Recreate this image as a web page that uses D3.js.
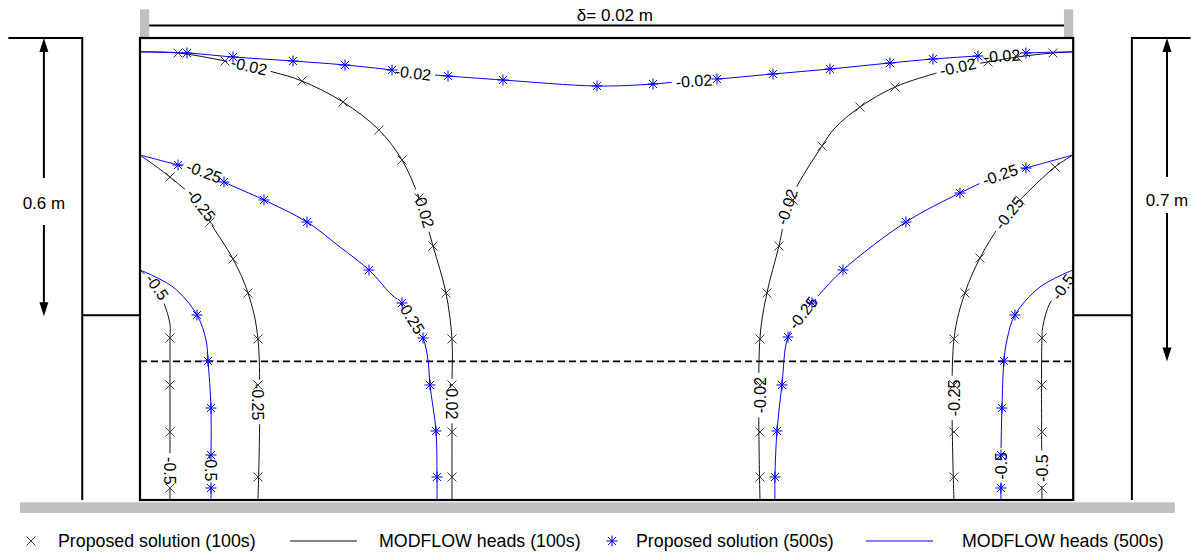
<!DOCTYPE html>
<html>
<head>
<meta charset="utf-8">
<script src="https://cdn.jsdelivr.net/npm/d3@7"></script>
<style>
  body { margin: 0; background: #fff; }
  svg { display: block; font-family: Arial, "Liberation Sans", sans-serif; }
</style>
</head>
<body>
<svg id="chart" width="1191" height="553"></svg>
<script>
// Coordinates in cm: x from the left wall, z = elevation above the base.
const levels = [-0.02, -0.25, -0.5];

// MODFLOW heads, t = 100 s
const mf100_L002 = [[0,97.0],[8.23,96.75],[18.40,95.02],[28.79,92.64],[35.06,90.69],[43.94,86.15],[51.73,80.09],[56.71,73.59],[60.39,65.37],[63.42,54.98],[66.23,44.81],[67.53,34.85],[67.53,24.89],[67.53,14.72],[67.53,4.98],[67.53,0]];
const mf100_L025 = [[0,74.68],[6.49,69.91],[13.20,63.85],[15.15,60.17],[20.13,52.16],[23.38,44.81],[25.54,34.85],[25.54,0]];
const mf100_L05  = [[0,49.78],[3.68,46.10],[5.19,42.64],[6.49,38.10],[6.49,35.06],[6.49,0]];
const mf100_R002 = [[201.95,97.0],[197.62,96.75],[189.83,95.89],[183.55,94.81],[177.06,93.72],[173.16,92.64],[163.42,89.39],[155.84,85.06],[150.43,80.52],[147.62,76.62],[140.6,64.6],[138.31,54.98],[135.71,44.81],[134.20,35.06],[134.20,0]];
const mf100_R025 = [[201.95,74.68],[198.05,72.08],[190.48,64.94],[188.1,62.1],[185.71,58.87],[181.82,52.38],[178.57,44.81],[176.19,34.85],[176.19,0]];
const mf100_R05  = [[201.95,49.78],[199.78,46.10],[196.97,42.64],[195.45,37.66],[195.24,35.06],[195.24,0]];

// Proposed solution, t = 100 s
const ps100_L002 = [[8.23,96.75],[18.40,95.02],[35.06,90.69],[43.94,86.15],[51.73,80.09],[56.71,73.59],[60.39,65.37],[63.42,54.98],[66.23,44.81],[67.53,34.85],[67.53,24.89],[67.53,14.72],[67.53,4.98]];
const ps100_L025 = [[6.49,69.91],[15.15,60.17],[20.13,52.16],[23.38,44.81],[25.54,34.85],[25.54,24.89],[25.54,4.98]];
const ps100_L05  = [[6.49,35.06],[6.49,24.89],[6.49,14.72],[6.49,2.60]];
const ps100_R002 = [[197.62,96.75],[189.83,95.89],[183.55,94.81],[163.42,89.39],[155.84,85.06],[147.62,76.62],[141.34,64.94],[138.31,54.98],[135.71,44.81],[134.20,34.85],[134.20,24.89],[134.20,14.72],[134.20,4.98]];
const ps100_R025 = [[198.05,72.08],[190.48,64.94],[181.82,52.38],[178.57,44.81],[176.19,34.85],[176.19,24.89],[176.19,14.72],[176.19,4.98]];
const ps100_R05  = [[195.24,35.06],[195.24,24.89],[195.24,14.72],[195.24,2.60]];

// MODFLOW heads, t = 500 s
const mf500_002  = [[0,97.0],[10.17,96.75],[20.13,95.89],[33.12,95.02],[44.37,94.16],[54.55,93.07],[59.09,92.42],[66.67,91.77],[78.57,90.91],[98.92,89.61],[111.04,90.04],[120.13,90.91],[124.89,91.13],[137.01,92.21],[149.35,93.29],[162.34,94.59],[171.64,95.45],[181.39,96.10],[186.15,96.32],[191.77,96.75],[201.95,97.0]];
const mf500_L025 = [[0,74.68],[8.23,72.51],[14.07,71.0],[18.18,68.83],[26.84,64.94],[36.15,60.17],[43.29,54.76],[49.57,49.78],[54.55,44.37],[56.71,42.64],[58.44,40.04],[61.26,35.06],[62.34,30.30],[62.77,24.89],[64.07,14.94],[64.29,4.98],[64.29,0]];
const mf500_L05  = [[0,49.78],[7.14,46.10],[12.34,40.04],[14.29,34.63],[14.72,30.09],[15.37,19.91],[15.37,9.74],[15.37,0]];
const mf500_R025 = [[201.95,74.68],[191.77,71.86],[186.15,70.35],[177.49,66.45],[165.80,60.17],[152.16,49.78],[146.75,44.16],[143.51,40.48],[140.26,35.28],[138.96,24.89],[137.88,14.94],[137.44,4.98],[137.44,0]];
const mf500_R05  = [[201.95,49.78],[194.81,46.10],[189.39,40.04],[187.66,34.63],[187.01,30.09],[186.58,19.91],[186.36,9.74],[186.36,0]];

// Proposed solution, t = 500 s
const ps500_002  = [[10.17,96.75],[20.13,95.89],[33.12,95.02],[44.37,94.16],[54.55,93.07],[66.67,91.77],[78.57,90.91],[98.92,89.61],[111.04,90.04],[124.89,91.13],[137.01,92.21],[149.35,93.29],[162.34,94.59],[171.64,95.45],[181.39,96.10],[191.77,96.75]];
const ps500_L025 = [[8.23,72.51],[18.18,68.83],[26.84,64.94],[36.15,60.17],[49.57,49.78],[56.71,42.64],[61.26,35.06],[62.77,24.89],[64.07,14.94],[64.29,4.98]];
const ps500_L05  = [[12.34,40.04],[14.72,30.09],[15.37,19.91],[15.37,9.74],[15.37,2.60]];
const ps500_R025 = [[191.77,71.86],[177.49,66.45],[165.80,60.17],[152.16,49.78],[145.45,42.64],[140.26,35.28],[138.96,24.89],[137.88,14.94],[137.44,4.98]];
const ps500_R05  = [[189.39,40.04],[187.01,30.09],[186.58,19.91],[186.36,9.74],[186.36,2.60]];

// Contour label anchors along each line
const lab100_L002 = [[23.6,93.9],[61.47,62.77],[67.53,21.4]];
const lab100_L025 = [[13.20,63.85],[25.54,21.2]];
const lab100_L05  = [[3.68,46.10],[6.49,6.3]];
const lab100_R002 = [[177.06,93.72],[140.04,63.42],[134.20,22.7]];
const lab100_R025 = [[188.1,62.1],[176.19,22.1]];
const lab100_R05  = [[199.78,46.10],[195.24,6.9]];
const lab500_002  = [[59.09,92.42],[119.91,90.69],[186.58,96.10]];
const lab500_L025 = [[13.85,71.0],[58.66,39.61]];
const lab500_L05  = [[15.37,7.0]];
const lab500_R025 = [[186.15,70.35],[143.51,40.48]];
const lab500_R05  = [[186.36,7.4]];

const legendItems = ["Proposed solution (100s)", "MODFLOW heads (100s)", "Proposed solution (500s)", "MODFLOW heads (500s)"];

const contours = [
  { id: "c1",  pts: mf100_L002, level: levels[0], run: 100, labels: lab100_L002 },
  { id: "c2",  pts: mf100_L025, level: levels[1], run: 100, labels: lab100_L025 },
  { id: "c3",  pts: mf100_L05,  level: levels[2], run: 100, labels: lab100_L05 },
  { id: "c4",  pts: mf100_R002, level: levels[0], run: 100, labels: lab100_R002 },
  { id: "c5",  pts: mf100_R025, level: levels[1], run: 100, labels: lab100_R025 },
  { id: "c6",  pts: mf100_R05,  level: levels[2], run: 100, labels: lab100_R05 },
  { id: "c7",  pts: mf500_002,  level: levels[0], run: 500, labels: lab500_002 },
  { id: "c8",  pts: mf500_L025, level: levels[1], run: 500, labels: lab500_L025 },
  { id: "c9",  pts: mf500_L05,  level: levels[2], run: 500, labels: lab500_L05 },
  { id: "c10", pts: mf500_R025, level: levels[1], run: 500, labels: lab500_R025 },
  { id: "c11", pts: mf500_R05,  level: levels[2], run: 500, labels: lab500_R05 }
];
const markerSets = [
  { pts: ps100_L002, run: 100 }, { pts: ps100_L025, run: 100 }, { pts: ps100_L05, run: 100 },
  { pts: ps100_R002, run: 100 }, { pts: ps100_R025, run: 100 }, { pts: ps100_R05, run: 100 },
  { pts: ps500_002, run: 500 }, { pts: ps500_L025, run: 500 }, { pts: ps500_L05, run: 500 },
  { pts: ps500_R025, run: 500 }, { pts: ps500_R05, run: 500 }
];

const W = 1191, H = 553;
const svg = d3.select("#chart");
const x = d3.scaleLinear().domain([0, 202]).range([140, 1073.2]);
const z = d3.scaleLinear().domain([0, 100]).range([500, 38]);

const lineColor = { 100: "#111", 500: "#0000ff" };
const markColor = { 100: "#3c3c3c", 500: "#0000ff" };

function xPath(r) { return `M${-r},${-r}L${r},${r}M${-r},${r}L${r},${-r}`; }
function starPath(r) { const d = r * 0.72; return `M0,${-r}L0,${r}M${-r},0L${r},0M${-d},${-d}L${d},${d}M${-d},${d}L${d},${-d}`; }
const markPath = { 100: xPath(4.5), 500: starPath(5.5) };

const defs = svg.append("defs");

// base strip, wall posts and the gap dimension
svg.append("rect").attr("x", x(-26)).attr("y", z(-0.5)).attr("width", x(224) - x(-26)).attr("height", z(-2.8) - z(-0.5)).attr("fill", "#c0c0c0");
[[0, 2], [200, 202]].forEach(([a, b]) => {
  svg.append("rect").attr("x", x(a)).attr("y", z(106.2)).attr("width", x(b) - x(a)).attr("height", z(100) - z(106.2)).attr("fill", "#c0c0c0");
});
svg.append("line").attr("x1", x(2)).attr("x2", x(200)).attr("y1", z(102.7)).attr("y2", z(102.7)).attr("stroke", "#000").attr("stroke-width", 2);
svg.append("text").attr("x", x(102.8)).attr("y", 21).attr("text-anchor", "middle").attr("font-size", 17).text("δ= 0.02 m");

// reservoirs on both sides
const tank = svg.append("g").attr("fill", "none").attr("stroke", "#000").attr("stroke-width", 2);
tank.append("path").attr("d", `M${x(-28.5)},${z(100)}H${x(-12.5)}V${z(0)}`);
tank.append("path").attr("d", `M${x(-12.5)},${z(40)}H${x(0)}`);
tank.append("path").attr("d", `M${x(227.4)},${z(100)}H${x(214.7)}V${z(0)}`);
tank.append("path").attr("d", `M${x(202)},${z(40)}H${x(214.7)}`);

function dimArrow(xp, y1, y2, g1, g2, label, ty) {
  const g = svg.append("g");
  g.append("line").attr("x1", xp).attr("x2", xp).attr("y1", y1 + 13).attr("y2", g1).attr("stroke", "#000").attr("stroke-width", 2);
  g.append("line").attr("x1", xp).attr("x2", xp).attr("y1", g2).attr("y2", y2 - 13).attr("stroke", "#000").attr("stroke-width", 2);
  g.append("path").attr("d", `M${xp},${y1}L${xp - 4.5},${y1 + 14}L${xp + 4.5},${y1 + 14}Z`).attr("fill", "#000");
  g.append("path").attr("d", `M${xp},${y2}L${xp - 4.5},${y2 - 14}L${xp + 4.5},${y2 - 14}Z`).attr("fill", "#000");
  g.append("text").attr("x", xp).attr("y", ty).attr("text-anchor", "middle").attr("font-size", 17).text(label);
}
dimArrow(x(-20.8), z(100), z(40) + 1, 178, 225, "0.6 m", 209);
dimArrow(x(222.3), z(100), z(30), 177, 213, "0.7 m", 206);

// water table
svg.append("line").attr("x1", x(0)).attr("x2", x(202)).attr("y1", z(30)).attr("y2", z(30))
  .attr("stroke", "#000").attr("stroke-width", 1.8).attr("stroke-dasharray", "7,4");

// contour lines
const lineGen = d3.line().x(d => x(d[0])).y(d => z(d[1])).curve(d3.curveCatmullRom.alpha(0.5));
const lineG = svg.append("g").attr("fill", "none");
const labelG = svg.append("g").attr("font-size", 16).attr("fill", "#000");
const midX = (x(0) + x(202)) / 2;

contours.forEach(c => {
  const path = lineG.append("path").attr("d", lineGen(c.pts))
    .attr("stroke", lineColor[c.run]).attr("stroke-width", 1)
    .attr("mask", `url(#m-${c.id})`);
  const node = path.node();
  const total = node.getTotalLength();
  const mask = defs.append("mask").attr("id", "m-" + c.id).attr("maskUnits", "userSpaceOnUse")
    .attr("x", 0).attr("y", 0).attr("width", W).attr("height", H);
  mask.append("rect").attr("x", 0).attr("y", 0).attr("width", W).attr("height", H).attr("fill", "#fff");

  c.labels.forEach(l => {
    const px = x(l[0]), py = z(l[1]);
    let best = Infinity, bestL = 0;
    for (let s = 0; s <= total; s += 1) {
      const p = node.getPointAtLength(s);
      const d = (p.x - px) ** 2 + (p.y - py) ** 2;
      if (d < best) { best = d; bestL = s; }
    }
    const a = node.getPointAtLength(Math.max(0, bestL - 5));
    const b = node.getPointAtLength(Math.min(total, bestL + 5));
    let ang = Math.atan2(b.y - a.y, b.x - a.x) * 180 / Math.PI;
    if (ang > 90) ang -= 180;
    if (ang <= -90) ang += 180;
    if (Math.abs(ang) > 88) ang = px < midX ? 90 : -90;
    const t = labelG.append("text")
      .attr("transform", `translate(${px},${py}) rotate(${ang})`)
      .attr("text-anchor", "middle").attr("dy", "0.35em")
      .text(String(c.level));
    const w = t.node().getComputedTextLength() + 8;
    mask.append("rect").attr("x", -w / 2).attr("y", -7).attr("width", w).attr("height", 14)
      .attr("transform", `translate(${px},${py}) rotate(${ang})`).attr("fill", "#000");
  });
});

// box outline
svg.append("rect").attr("x", x(0)).attr("y", z(100)).attr("width", x(202) - x(0)).attr("height", z(0) - z(100))
  .attr("fill", "none").attr("stroke", "#000").attr("stroke-width", 2.2);

// proposed-solution markers
const markG = svg.append("g").attr("fill", "none").attr("stroke-width", 1);
markerSets.forEach(m => {
  markG.selectAll(null).data(m.pts).enter().append("path")
    .attr("transform", d => `translate(${x(d[0])},${z(d[1])})`)
    .attr("d", markPath[m.run]).attr("stroke", markColor[m.run]);
});

// legend
const lg = svg.append("g").attr("font-size", 17.8);
const ly = 541;
lg.append("path").attr("transform", `translate(31,${ly})`).attr("d", xPath(4.5)).attr("stroke", markColor[100]).attr("fill", "none");
lg.append("text").attr("x", 58).attr("y", ly + 6).text(legendItems[0]);
lg.append("line").attr("x1", 290).attr("x2", 357).attr("y1", ly).attr("y2", ly).attr("stroke", lineColor[100]);
lg.append("text").attr("x", 379).attr("y", ly + 6).text(legendItems[1]);
lg.append("path").attr("transform", `translate(612,${ly})`).attr("d", starPath(5.5)).attr("stroke", markColor[500]).attr("fill", "none");
lg.append("text").attr("x", 636).attr("y", ly + 6).text(legendItems[2]);
lg.append("line").attr("x1", 866).attr("x2", 933).attr("y1", ly).attr("y2", ly).attr("stroke", lineColor[500]);
lg.append("text").attr("x", 962).attr("y", ly + 6).text(legendItems[3]);
</script>
</body>
</html>
